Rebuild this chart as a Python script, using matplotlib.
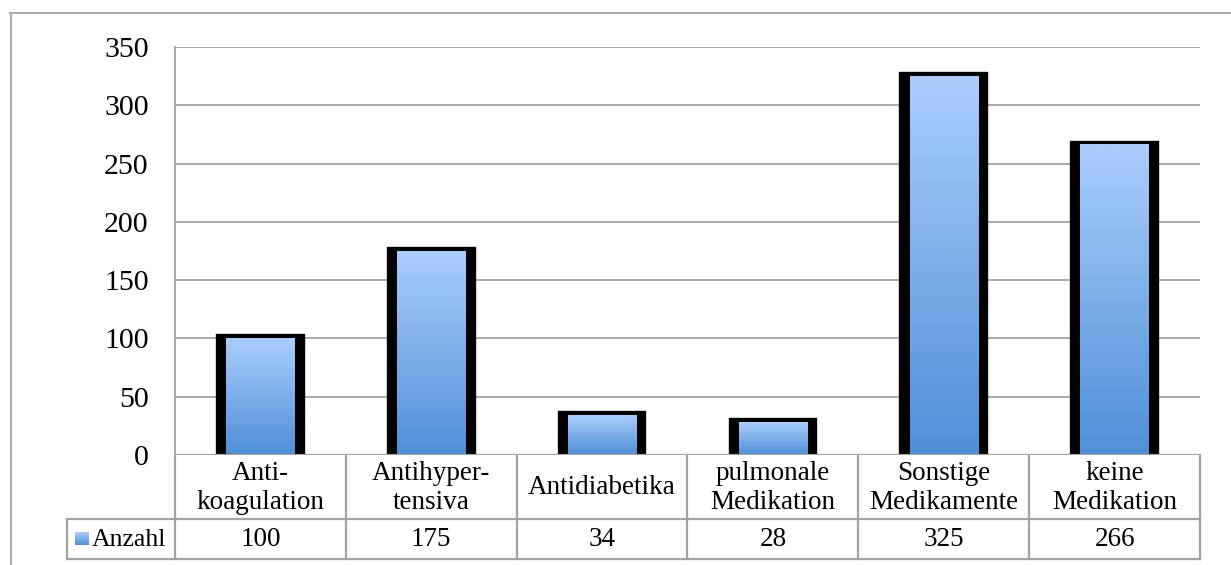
import numpy as np
import matplotlib
matplotlib.use("Agg")
import matplotlib.pyplot as plt
from matplotlib import transforms
from matplotlib.colors import LinearSegmentedColormap
from matplotlib.lines import Line2D

plt.rcParams['font.family'] = ['Liberation Serif', 'DejaVu Serif']

# Medikation der Patienten
kategorien = ["Anti-\nkoagulation", "Antihyper-\ntensiva", "Antidiabetika",
              "pulmonale\nMedikation", "Sonstige\nMedikamente", "keine\nMedikation"]
anzahl = [100, 175, 34, 28, 325, 266]
serie = "Anzahl"
y_ticks = [0, 50, 100, 150, 200, 250, 300, 350]

W, H = 1231, 565
fig = plt.figure(figsize=(W / 100, H / 100), dpi=100)


def fx(x):
    return x / W


def fy(y):
    return 1 - y / H


grau = '#a3a3a3'
verlauf = LinearSegmentedColormap.from_list('blau', ['#4f8fd8', '#aacdfd'])
grad = np.linspace(0, 1, 256).reshape(-1, 1)

ax = fig.add_axes([fx(175), fy(455), fx(1200) - fx(175), fy(47) - fy(455)])
x = np.arange(len(anzahl))

for i, v in zip(x, anzahl):
    ax.bar(i, v, width=0.473, color='black', edgecolor='black', linewidth=6, zorder=2)
    ax.imshow(grad, extent=(i - 0.2, i + 0.2, 0, v), origin='lower', aspect='auto',
              cmap=verlauf, zorder=3, interpolation='bilinear')

ax.set_xlim(-0.5, len(anzahl) - 0.5)
ax.set_ylim(0, 350)
ax.set_yticks(y_ticks)
ax.set_xticks([])
ax.yaxis.grid(True, color=grau, linewidth=1.3)
ax.set_axisbelow(True)
ax.axhline(0, color=grau, linewidth=1.6, zorder=4)
for s in ['top', 'right', 'bottom']:
    ax.spines[s].set_visible(False)
ax.spines['left'].set_color(grau)
ax.spines['left'].set_linewidth(1.3)
ax.tick_params(axis='y', length=0, pad=19, labelsize=21.5)

# Datentabelle unter dem Diagramm
tr = transforms.blended_transform_factory(ax.transData, fig.transFigure)
lkw = dict(color=grau, linewidth=1.6, clip_on=False)
for b in np.arange(len(anzahl) + 1) - 0.5:
    fig.add_artist(Line2D([b, b], [fy(455), fy(559)], transform=tr, **lkw))
for yy in [519, 559]:
    fig.add_artist(Line2D([fx(67), fx(1200)], [fy(yy), fy(yy)], transform=fig.transFigure, **lkw))
fig.add_artist(Line2D([fx(67), fx(67)], [fy(519), fy(559)], transform=fig.transFigure, **lkw))

for i, (k, v) in enumerate(zip(kategorien, anzahl)):
    fig.text(i, fy(488), k, transform=tr, ha='center', va='center', fontsize=19.5, linespacing=1.22)
    fig.text(i, fy(540), str(v), transform=tr, ha='center', va='center', fontsize=19.5)

# Legendensymbol
lax = fig.add_axes([fx(75), fy(545), fx(89) - fx(75), fy(532) - fy(545)])
lax.imshow(grad, origin='lower', aspect='auto', cmap=verlauf)
lax.axis('off')
fig.text(fx(92), fy(540), serie, ha='left', va='center', fontsize=18.5)

# Diagrammrahmen
fig.add_artist(Line2D([fx(10.5), fx(10.5)], [fy(13), 0], transform=fig.transFigure, color=grau, linewidth=1.3))
fig.add_artist(Line2D([fx(10), 1], [fy(13), fy(13)], transform=fig.transFigure, color=grau, linewidth=1.3))

fig.savefig('out.png', dpi=100)
